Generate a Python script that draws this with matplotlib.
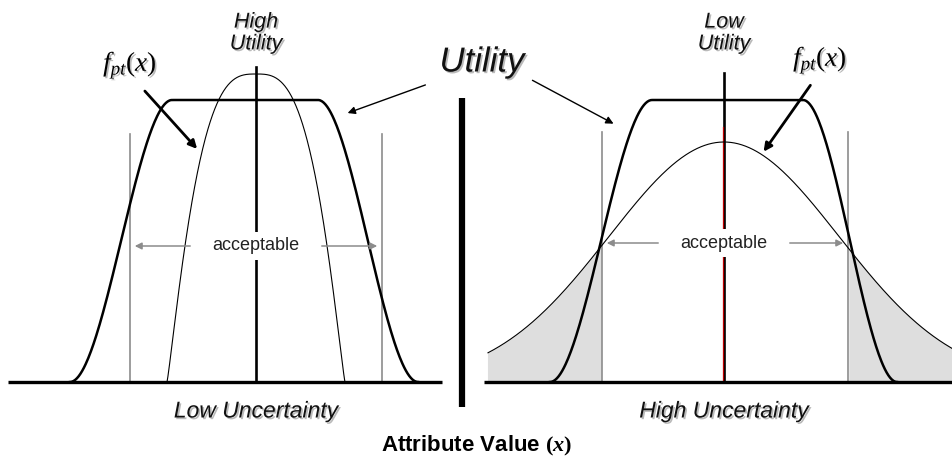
import numpy as np
import matplotlib
matplotlib.use("Agg")
import matplotlib.pyplot as plt
import matplotlib.patheffects as pe

plt.rcParams['font.family'] = ['Liberation Sans', 'DejaVu Sans']
plt.rcParams['mathtext.fontset'] = 'custom'
plt.rcParams['mathtext.rm'] = 'Liberation Serif'
plt.rcParams['mathtext.it'] = 'Liberation Serif:italic'
plt.rcParams['mathtext.bf'] = 'Liberation Serif:bold'
plt.rcParams['mathtext.bfit'] = 'Liberation Serif:italic:bold'

# shape values (pixel units of the 952x463 sketch)
baseline_y = 382
panel_names = ['Low Uncertainty', 'High Uncertainty']
panel_tops = ['High\nUtility', 'Low\nUtility']
panel_centers = [256, 724]
baseline_spans = [(8, 442), (484, 952)]
center_line_tops = [67, 73]
accept_limits = [(130, 382), (602, 848)]
accept_tops = [134, 132]
accept_y = [246, 243]
# utility: foot left, shoulder left, shoulder right, foot right, plateau height
utility_knots = [(70, 172, 318, 418), (550, 652, 803, 897)]
utility_top = 100
# f_pt left: peaked, narrow ; f_pt right: wide gaussian
fpt_narrow = dict(center=256, half_width=89, peak=74, power=3)
fpt_wide = dict(center=724, sigma=115, peak=142, x_from=488, x_to=952)


def utility_curve(knots, n=400):
    a, b, c, d = knots
    x = np.linspace(a, d, n)
    h = np.ones_like(x)
    t = (x[x < b] - a) / (b - a)
    h[x < b] = 3 * t**2 - 2 * t**3
    t = (d - x[x > c]) / (d - c)
    h[x > c] = 3 * t**2 - 2 * t**3
    return x, baseline_y - h * (baseline_y - utility_top)


def fpt_narrow_curve(p, n=400):
    x = np.linspace(p['center'] - p['half_width'], p['center'] + p['half_width'], n)
    u = np.abs(x - p['center']) / p['half_width']
    h = (1 - u ** p['power']) ** 1.15
    return x, baseline_y - h * (baseline_y - p['peak'])


def fpt_wide_curve(p, n=500):
    x = np.linspace(p['x_from'], p['x_to'], n)
    h = np.exp(-(x - p['center'])**2 / (2 * p['sigma']**2))
    return x, baseline_y - h * (baseline_y - p['peak'])


shadow = [pe.SimplePatchShadow(offset=(1.2, -1.2), shadow_rgbFace='0.55', alpha=0.6), pe.Normal()]

fig = plt.figure(figsize=(9.52, 4.63), dpi=100)
ax = fig.add_axes([0, 0, 1, 1])
ax.set_xlim(0, 952)
ax.set_ylim(463, 0)
ax.axis('off')

# shaded tails of the wide f_pt
xw, yw = fpt_wide_curve(fpt_wide)
lo, hi = accept_limits[1]
ax.fill_between(xw, yw, baseline_y, where=xw <= lo, color='#dedede', lw=0, zorder=1)
ax.fill_between(xw, yw, baseline_y, where=xw >= hi, color='#dedede', lw=0, zorder=1)
ax.plot([xw[0], xw[0]], [yw[0], baseline_y], color='#dedede', lw=0.8, zorder=1)

for i in range(2):
    cx = panel_centers[i]
    x0, x1 = baseline_spans[i]
    ax.plot([x0, x1], [baseline_y, baseline_y], color='black', lw=2.4, zorder=5, solid_capstyle='butt')
    ax.plot([cx, cx], [center_line_tops[i], baseline_y], color='black', lw=1.9, zorder=3)
    for gx in accept_limits[i]:
        ax.plot([gx, gx], [accept_tops[i], baseline_y], color='#8c8c8c', lw=1.2, zorder=2)
    ux, uy = utility_curve(utility_knots[i])
    ax.plot(ux, uy, color='black', lw=1.8, zorder=4)
    ax.text(cx, 33, panel_tops[i], ha='center', va='center', style='italic',
            fontsize=15.5, linespacing=1.05, color='#111111', path_effects=shadow, zorder=6)
    ax.text(cx, 411, panel_names[i], ha='center', va='center', style='italic',
            fontsize=16.5, color='#111111', path_effects=shadow, zorder=6)
    # acceptable band
    ay = accept_y[i]
    ax.text(cx, ay, 'acceptable', ha='center', va='center', fontsize=13, color='#222222',
            bbox=dict(boxstyle='square,pad=0.3', fc='white', ec='none'), zorder=7)
    ax.annotate('', xy=(accept_limits[i][0] + 2, ay), xytext=(cx - 63, ay),
                arrowprops=dict(arrowstyle='-|>', color='#8c8c8c', lw=1.1, mutation_scale=10), zorder=7)
    ax.annotate('', xy=(accept_limits[i][1] - 2, ay), xytext=(cx + 63, ay),
                arrowprops=dict(arrowstyle='-|>', color='#8c8c8c', lw=1.1, mutation_scale=10), zorder=7)

# red mark on the right center line
ax.plot([723.3, 723.3], [127, baseline_y], color='#c00000', lw=0.9, zorder=3.5)

xn, yn = fpt_narrow_curve(fpt_narrow)
ax.plot(xn, yn, color='black', lw=0.8, zorder=4)
ax.plot(xw, yw, color='black', lw=0.8, zorder=4)

# separator bar
ax.plot([462, 462], [98, 407], color='black', lw=4.5, solid_capstyle='butt', zorder=5)

# Utility label and arrows
ax.text(482, 62, 'Utility', ha='center', va='center', style='italic', fontsize=25,
        color='#111111', path_effects=shadow, zorder=6)
ax.annotate('', xy=(345, 114), xytext=(428, 84),
            arrowprops=dict(arrowstyle='-|>', color='black', lw=1.0, mutation_scale=11), zorder=6)
ax.annotate('', xy=(616, 125), xytext=(530, 79),
            arrowprops=dict(arrowstyle='-|>', color='black', lw=1.0, mutation_scale=11), zorder=6)

# f_pt(x) labels and arrows
ax.text(130, 65, r'$f_{pt}(x)$', ha='center', va='center', fontsize=19.5, color='black',
        path_effects=shadow, zorder=6)
ax.annotate('', xy=(199, 151), xytext=(143, 89),
            arrowprops=dict(arrowstyle='-|>', color='black', lw=2.0, mutation_scale=12), zorder=6)
ax.text(820, 60, r'$f_{pt}(x)$', ha='center', va='center', fontsize=19.5, color='black',
        path_effects=shadow, zorder=6)
ax.annotate('', xy=(762, 154), xytext=(812, 83),
            arrowprops=dict(arrowstyle='-|>', color='black', lw=2.0, mutation_scale=12), zorder=6)

# x-axis title
ax.text(477, 446, r'Attribute Value $\mathbf{(}\mathbfit{x}\mathbf{)}$', ha='center', va='center',
        fontsize=16, fontweight='bold', color='black', zorder=6)

fig.savefig('out.png', dpi=100)
